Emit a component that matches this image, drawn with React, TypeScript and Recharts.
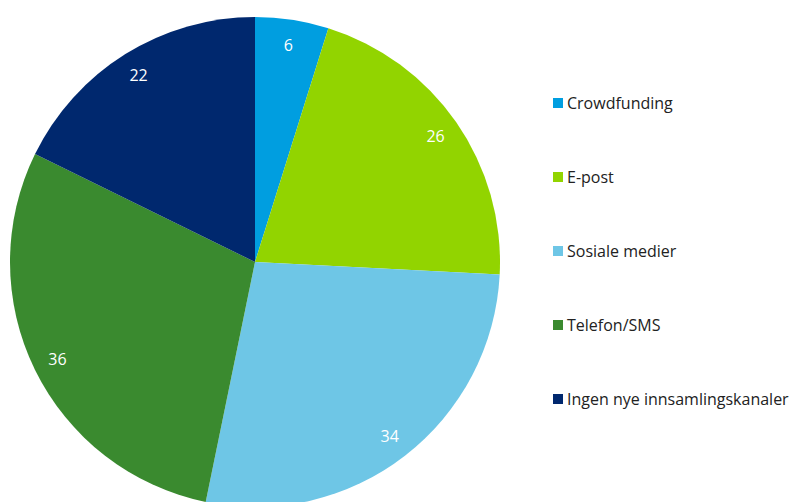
import React from 'react'
import { PieChart, Pie, Cell, Legend } from 'recharts'

const channels = ['Crowdfunding', 'E-post', 'Sosiale medier', 'Telefon/SMS', 'Ingen nye innsamlingskanaler']
const shares = [6, 26, 34, 36, 22]
const colors = ['#009ee0', '#92d400', '#6ec6e6', '#3a8a2f', '#00286e']

const data = channels.map((name, i) => ({ name, value: shares[i] }))

const RADIAN = Math.PI / 180

// eslint-disable-next-line @typescript-eslint/no-explicit-any
const renderLabel = (props: any) => {
  const { cx, cy, midAngle, value } = props
  const r = 220
  const x = cx + r * Math.cos(-midAngle * RADIAN)
  const y = cy + r * Math.sin(-midAngle * RADIAN)
  return (
    <text
      x={x}
      y={y}
      fill="#ffffff"
      textAnchor="middle"
      dominantBaseline="central"
      fontSize={16}
      fontFamily="'Open Sans', sans-serif"
    >
      {value}
    </text>
  )
}

const LegendList = () => (
  <div style={{ fontFamily: "'Open Sans', sans-serif", fontSize: 16, color: '#222' }}>
    {channels.map((name, i) => (
      <div
        key={name}
        style={{ display: 'flex', alignItems: 'center', height: 20, marginBottom: i < channels.length - 1 ? 54 : 0 }}
      >
        <span style={{ width: 10, height: 10, background: colors[i], marginRight: 4, display: 'inline-block' }} />
        <span style={{ whiteSpace: 'nowrap' }}>{name}</span>
      </div>
    ))}
  </div>
)

const App: React.FC = () => {
  return (
    <div style={{ position: 'absolute', left: 0, top: 0 }}>
      <PieChart width={790} height={502} margin={{ top: 0, right: 0, bottom: 0, left: 0 }}>
        <Pie
          data={data}
          dataKey="value"
          nameKey="name"
          cx={255}
          cy={262}
          outerRadius={245}
          startAngle={90}
          endAngle={-270}
          stroke="none"
          label={renderLabel}
          labelLine={false}
          isAnimationActive={false}
        >
          {data.map((entry, index) => (
            <Cell key={`cell-${index}`} fill={colors[index]} />
          ))}
        </Pie>
        <Legend
          content={<LegendList />}
          layout="vertical"
          wrapperStyle={{ left: 553, top: 93, width: 240 }}
        />
      </PieChart>
    </div>
  )
}

export default App
